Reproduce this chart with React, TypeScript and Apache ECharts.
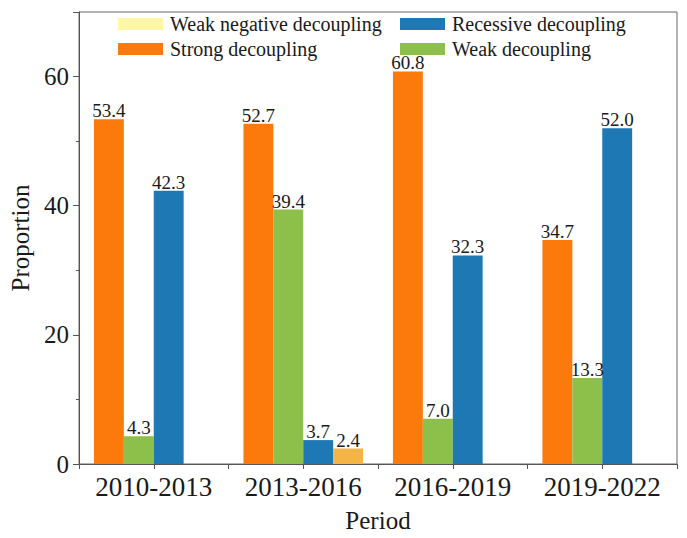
import React, { useEffect, useRef } from "react";
import * as echarts from "echarts";

const periods = ["2010-2013", "2013-2016", "2016-2019", "2019-2022"];
const strongDecoupling = [53.4, 52.7, 60.8, 34.7];
const weakDecoupling = [4.3, 39.4, 7.0, 13.3];
const recessiveDecoupling = [42.3, 3.7, 32.3, 52.0];
const weakNegativeDecoupling = [null, 2.4, null, null];
const yTicks = [0, 20, 40, 60];

const FONT = "'Liberation Serif', 'Times New Roman', serif";
const TXT = "#1a1a1a";

export default function App() {
  const ref = useRef<HTMLDivElement>(null);
  useEffect(() => {
    const chart = echarts.init(ref.current!, null, { renderer: "svg" });
    const label = {
      show: true,
      position: "top",
      distance: -1,
      fontFamily: FONT,
      fontSize: 19,
      color: TXT,
      formatter: (p: any) => Number(p.value).toFixed(1),
    };
    const legendItem = (name: string, left: number, top: number) => ({
      data: [name],
      left,
      top,
      itemWidth: 45,
      itemHeight: 12,
      padding: 0,
      icon: "rect",
      selectedMode: false,
      textStyle: {
        fontFamily: FONT,
        fontSize: 20,
        lineHeight: 22,
        color: TXT,
        padding: [0, 0, 0, 2],
      },
    });
    chart.setOption({
      animation: false,
      textStyle: { fontFamily: FONT },
      legend: [
        legendItem("Weak negative decoupling", 118, 13),
        legendItem("Recessive decoupling", 400, 13),
        legendItem("Strong decoupling", 118, 38),
        legendItem("Weak decoupling", 400, 38),
      ],
      grid: {
        left: 75,
        right: 10,
        top: 12,
        bottom: 73,
        show: true,
        borderColor: "#666",
        borderWidth: 1,
      },
      xAxis: [
        {
          type: "category",
          data: periods,
          name: "Period",
          nameLocation: "middle",
          nameGap: 44,
          nameTextStyle: { fontFamily: FONT, fontSize: 25, color: TXT },
          axisLine: { lineStyle: { color: "#555" } },
          axisTick: { show: true, length: 5, lineStyle: { color: "#555" } },
          axisLabel: {
            interval: 0,
            hideOverlap: false,
            fontFamily: FONT,
            fontSize: 27,
            color: TXT,
            margin: 9,
          },
        },
        {
          type: "category",
          data: periods,
          position: "bottom",
          axisLine: { show: false },
          axisTick: { show: true, alignWithLabel: true, interval: 0, length: 5, lineStyle: { color: "#555" } },
          axisLabel: { show: false },
        },
      ],
      yAxis: [
        {
          type: "value",
          min: 0,
          max: 70,
          interval: 20,
          name: "Proportion",
          nameLocation: "middle",
          nameGap: 46,
          nameTextStyle: { fontFamily: FONT, fontSize: 25, color: TXT },
          axisLine: { show: true, lineStyle: { color: "#555" } },
          axisTick: { show: true, length: 6, lineStyle: { color: "#555" } },
          axisLabel: {
            fontFamily: FONT,
            fontSize: 25,
            color: TXT,
            margin: 10,
            formatter: (v: number) => (yTicks.includes(v) ? String(v) : ""),
          },
          splitLine: { show: false },
        },
        {
          type: "value",
          min: 0,
          max: 70,
          interval: 10,
          position: "left",
          axisLine: { show: false },
          axisTick: { show: true, length: 3, lineStyle: { color: "#555" } },
          axisLabel: { show: false },
          splitLine: { show: false },
        },
      ],
      series: [
        {
          name: "Strong decoupling",
          type: "bar",
          data: strongDecoupling,
          barGap: "0%",
          barCategoryGap: "20%",
          itemStyle: { color: "#FC7A0B" },
          label,
        },
        {
          name: "Weak decoupling",
          type: "bar",
          data: weakDecoupling,
          itemStyle: { color: "#8CC04B" },
          label,
        },
        {
          name: "Recessive decoupling",
          type: "bar",
          data: recessiveDecoupling,
          itemStyle: { color: "#1D78B3" },
          label,
        },
        {
          name: "Weak negative decoupling",
          type: "bar",
          data: weakNegativeDecoupling.map((v) =>
            v == null ? null : { value: v, itemStyle: { color: "#F5B446" } }
          ),
          itemStyle: { color: "#FFF6A6" },
          label,
        },
      ],
    });
    return () => chart.dispose();
  }, []);
  return (
    <div
      ref={ref}
      style={{ position: "absolute", left: 0, top: 0, width: 687, height: 538 }}
    />
  );
}
